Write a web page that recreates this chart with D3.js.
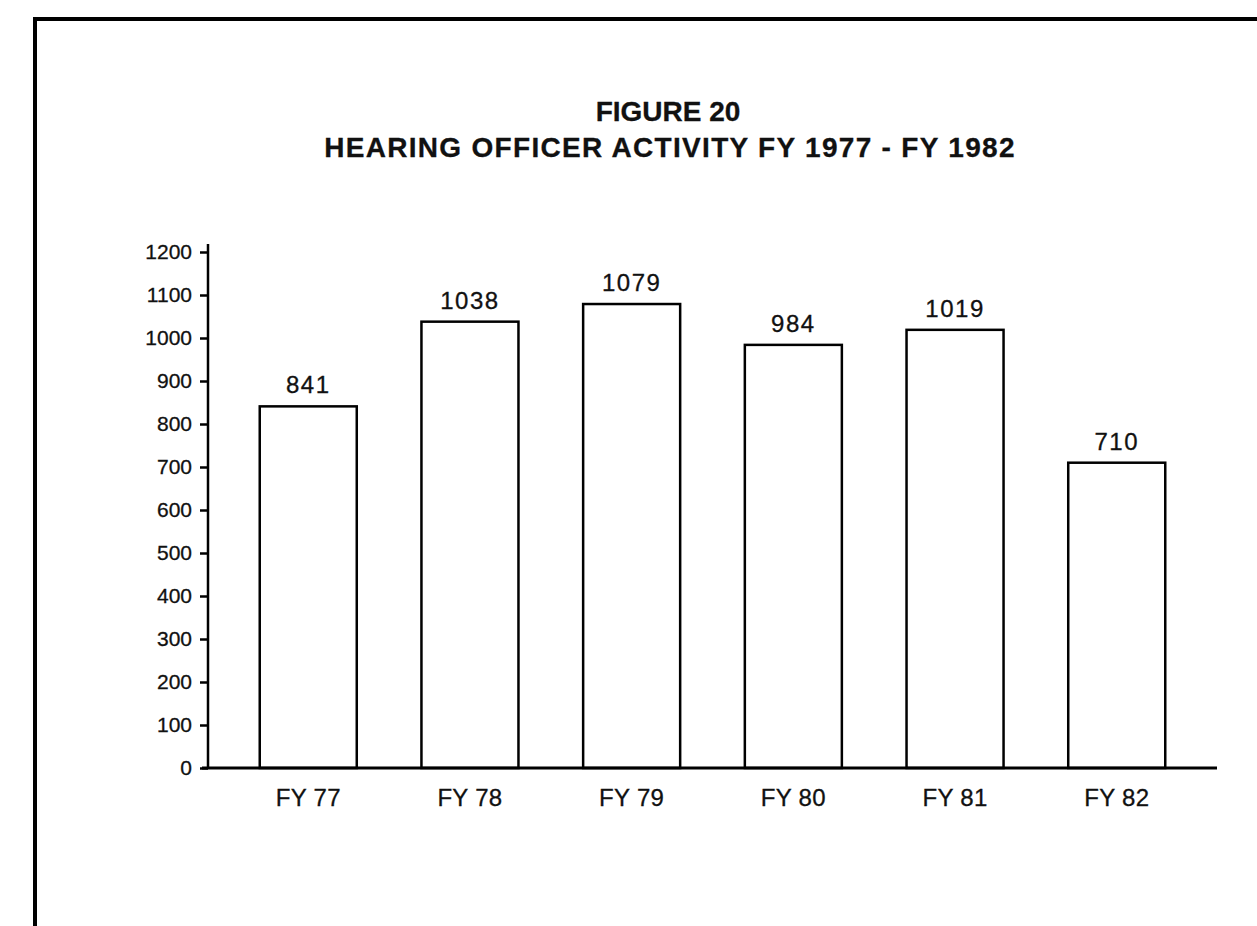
<!DOCTYPE html>
<html>
<head>
<meta charset="utf-8">
<script src="https://cdn.jsdelivr.net/npm/d3@7"></script>
<style>
  html, body { margin: 0; padding: 0; background: #fff; }
  svg { display: block; }
  text { font-family: "Liberation Sans", Arial, Helvetica, sans-serif; fill: #111; stroke: #111; stroke-width: 0.3px; }
</style>
</head>
<body>
<svg id="chart" width="1257" height="926"></svg>
<script>
// data
const years = ['FY 77', 'FY 78', 'FY 79', 'FY 80', 'FY 81', 'FY 82'];
const cases = [841, 1038, 1079, 984, 1019, 710];
const yTicks = [0, 100, 200, 300, 400, 500, 600, 700, 800, 900, 1000, 1100, 1200];

const W = 1257, H = 926;
const svg = d3.select('#chart');

// page frame (scan border, top + left only)
svg.append('path')
  .attr('d', `M35,${H} L35,19 L${W},19`)
  .attr('fill', 'none')
  .attr('stroke', '#000')
  .attr('stroke-width', 4);

// title
const title = svg.append('g').attr('text-anchor', 'middle').style('font-weight', 'bold');
title.append('text').attr('x', 668).attr('y', 121).style('font-size', '28px').text('FIGURE 20');
title.append('text').attr('x', 670).attr('y', 157).style('font-size', '28px')
  .style('letter-spacing', '1.3px')
  .text('HEARING OFFICER ACTIVITY FY 1977 - FY 1982');

// plot area
const x0 = 208, x1 = 1217, yBase = 768;
const x = d3.scaleBand().domain(years).range([x0, x1]).paddingInner(0.4).paddingOuter(0.32);
const y = d3.scaleLinear().domain([0, 1200]).range([yBase, 252]);

// y axis
const yAxis = svg.append('g')
  .attr('transform', `translate(${x0},0)`)
  .call(d3.axisLeft(y).tickValues(yTicks).tickSize(8).tickPadding(8).tickFormat(d3.format('d')));
yAxis.select('.domain').remove();
yAxis.selectAll('.tick line').attr('stroke', '#000').attr('stroke-width', 2.5);
yAxis.selectAll('.tick text').style('font-size', '21px').style('fill', '#111');
svg.append('line')
  .attr('x1', x0).attr('x2', x0)
  .attr('y1', 244).attr('y2', yBase + 1)
  .attr('stroke', '#000').attr('stroke-width', 2.5);

// bars
svg.append('g').selectAll('rect')
  .data(cases)
  .join('rect')
  .attr('x', (d, i) => x(years[i]))
  .attr('y', d => y(d))
  .attr('width', x.bandwidth())
  .attr('height', d => yBase - y(d))
  .attr('fill', '#fff')
  .attr('stroke', '#000')
  .attr('stroke-width', 2.5);

// value labels
svg.append('g').selectAll('text')
  .data(cases)
  .join('text')
  .attr('x', (d, i) => x(years[i]) + x.bandwidth() / 2)
  .attr('y', d => y(d) - 13)
  .attr('text-anchor', 'middle')
  .style('font-size', '24px')
  .style('letter-spacing', '1.5px')
  .text(d => d);

// x axis
const xAxis = svg.append('g')
  .attr('transform', `translate(0,${yBase})`)
  .call(d3.axisBottom(x).tickSize(0).tickPadding(21));
xAxis.select('.domain').remove();
xAxis.selectAll('.tick text').style('font-size', '24px').style('letter-spacing', '0.3px').style('fill', '#111');
svg.append('line')
  .attr('x1', 202).attr('x2', x1)
  .attr('y1', yBase).attr('y2', yBase)
  .attr('stroke', '#000').attr('stroke-width', 3);
</script>
</body>
</html>
